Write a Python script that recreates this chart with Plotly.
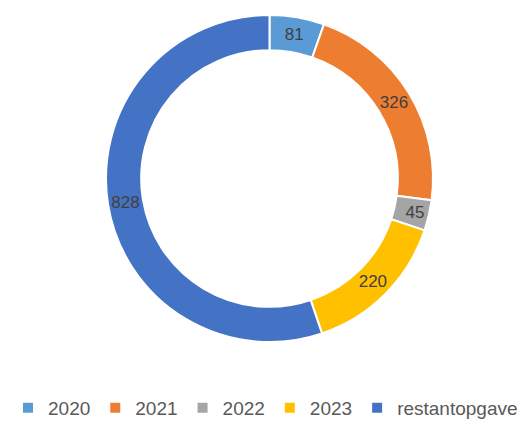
import plotly.graph_objects as go

labels = ["2020", "2021", "2022", "2023", "restantopgave"]
values = [81, 326, 45, 220, 828]
colors = ["#5B9BD5", "#ED7D31", "#A5A5A5", "#FFC000", "#4472C4"]

fig = go.Figure(go.Pie(
    labels=labels,
    values=values,
    hole=0.785,
    sort=False,
    direction="clockwise",
    rotation=0,
    marker=dict(colors=colors, line=dict(color="white", width=2)),
    textinfo="value",
    textposition="inside",
    insidetextorientation="horizontal",
    textfont=dict(family="Liberation Sans", size=17, color="#404040"),
    hoverinfo="label+value",
))

fig.update_layout(
    width=531, height=430,
    margin=dict(l=0, r=8, t=7, b=96),
    paper_bgcolor="white",
    plot_bgcolor="white",
    showlegend=True,
    legend=dict(
        orientation="h",
        x=0, xanchor="left", xref="paper",
        y=0.07, yanchor="middle", yref="container",
        font=dict(family="Liberation Sans", size=19, color="#595959"),
        itemwidth=30,
    ),
)

fig.write_html("out.html")
